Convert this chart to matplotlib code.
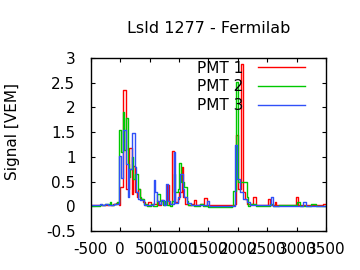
import matplotlib
matplotlib.use('Agg')
import matplotlib.pyplot as plt

plt.rcParams['axes.unicode_minus'] = False

# step change points (ns) and signal (VEM) for each PMT
t_pmt1 = [-500, -300, -250, -125, -75, -25, 0, 40, 95, 150, 200, 225, 260, 285, 310, 340,
          385, 430, 480, 520, 560, 620, 650, 700, 725, 800, 825, 885, 912, 940, 975, 1000,
          1045, 1070, 1100, 1150, 1200, 1263, 1287, 1350, 1433, 1473, 1950, 1966, 1995,
          2050, 2090, 2120, 2150, 2250, 2300, 2510, 2540, 2630, 2650, 2990, 3015, 3440, 3500]
v_pmt1 = [0.02, 0.03, 0.02, 0.04, 0.06, 0.03, 0.4, 2.36, 0.35, 1.19, 0.26, 0.82, 0.3, 0.2, 0.36, 0.15,
          0.08, 0.02, 0.09, 0.03, 0.05, 0.1, 0.03, 0.12, 0.04, 0.43, 0.05, 1.13, 0.3, 0.08, 0.15, 0.3,
          0.8, 0.2, 0.05, 0.03, 0.05, 0.12, 0.02, 0.04, 0.17, 0.02, 0.05, 1.44, 0.35,
          2.87, 0.3, 0.15, 0.05, 0.2, 0.03, 0.15, 0.03, 0.09, 0.02, 0.18, 0.03, 0.05, 0.05]

t_pmt2 = [-500, -350, -250, -180, -150, -100, -60, -20, 10, 40, 70, 95, 125, 150, 175, 200,
          225, 260, 300, 330, 360, 400, 450, 520, 560, 620, 680, 720, 760, 800, 840, 880,
          912, 940, 975, 1008, 1042, 1080, 1130, 1160, 1250, 1350, 1400, 1500, 1900, 1925,
          1966, 1995, 2150, 2180, 2200, 2300, 2550, 2600, 2700, 3000, 3050, 3250, 3330, 3500]
v_pmt2 = [0.0, 0.02, 0.05, 0.08, 0.03, 0.05, 0.08, 1.54, 1.1, 1.91, 1.15, 1.78, 0.85, 0.6, 0.75, 1.0,
          0.55, 0.66, 0.35, 0.2, 0.15, 0.05, 0.0, 0.05, 0.0, 0.26, 0.1, 0.02, 0.1, 0.02, 0.0, 0.1,
          0.66, 0.3, 0.35, 0.88, 0.5, 0.39, 0.1, 0.03, 0.0, 0.05, 0.0, -0.02, 0.0, 0.31,
          2.52, 0.5, 0.19, 0.0, 0.05, 0.0, 0.05, 0.0, 0.02, 0.09, 0.0, 0.05, 0.0, 0.0]

t_pmt3 = [-500, -350, -300, -250, -200, -100, -50, -20, 10, 40, 97, 125, 150, 198, 245, 270,
          300, 340, 400, 550, 570, 595, 625, 660, 700, 740, 782, 810, 850, 912, 940, 975,
          1020, 1060, 1080, 1130, 1200, 1473, 1507, 1950, 1990, 2030, 2080, 2150, 2200,
          2567, 2595, 3105, 3150, 3500]
v_pmt3 = [0.02, 0.04, 0.02, 0.05, 0.02, 0.04, 0.05, 1.01, 0.57, 1.55, 0.86, 0.2, 0.75, 1.48, 0.8, 0.3,
          0.15, 0.12, 0.02, 0.05, 0.53, 0.29, 0.1, 0.05, 0.12, 0.03, 0.46, 0.1, 0.05, 1.11, 0.07, 0.2,
          0.66, 0.35, 0.19, 0.06, 0.03, 0.1, 0.0, 1.25, 0.55, 0.3, 0.15, 0.08, 0.03,
          0.19, 0.01, 0.09, 0.01, 0.01]

fig = plt.figure(figsize=(3.6, 2.7), dpi=100)
ax = fig.add_axes([0.252, 0.144, 0.654, 0.641])

ax.step(t_pmt1, v_pmt1, where='post', color='#ff0000', lw=1.0, label='PMT 1')
ax.step(t_pmt2, v_pmt2, where='post', color='#00c800', lw=1.0, label='PMT 2')
ax.step(t_pmt3, v_pmt3, where='post', color='#3050f8', lw=1.0, label='PMT 3')

ax.set_xlim(-500, 3500)
ax.set_ylim(-0.5, 3)
ax.set_xticks(range(-500, 3501, 500))
ax.set_yticks([-0.5, 0, 0.5, 1, 1.5, 2, 2.5, 3])
ax.yaxis.set_major_formatter(matplotlib.ticker.FormatStrFormatter('%g'))
ax.tick_params(direction='in', top=True, right=True, length=3, width=0.8,
               labelsize=11, pad=8)
ax.tick_params(axis='y', pad=11)
for s in ax.spines.values():
    s.set_linewidth(1.0)

ax.set_title('LsId 1277 - Fermilab', fontsize=11.5, pad=18)
ax.set_ylabel('Signal [VEM]', fontsize=11)
ax.yaxis.set_label_coords(-0.30, 0.578)

ax.legend(loc='upper right', bbox_to_anchor=(0.911, 0.985), frameon=False,
          markerfirst=False, handlelength=3.07, handletextpad=1.0,
          labelspacing=0.25, borderpad=0, borderaxespad=0, fontsize=11)

fig.savefig('out.png', dpi=100)
